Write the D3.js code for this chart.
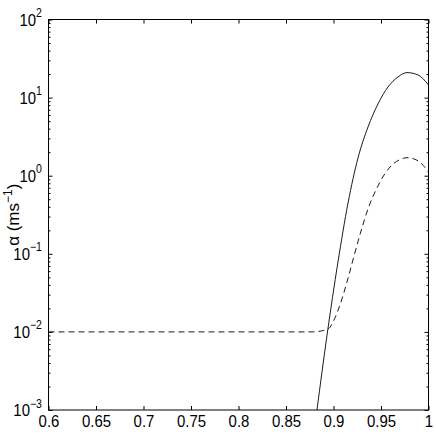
<!DOCTYPE html>
<meta charset="utf-8">
<head>
  <title>alpha</title>
  <script src="https://d3js.org/d3.v7.min.js"></script>
  <style>
    body { margin: 0; background: white; }
    text { font-family: "Liberation Sans", Arial, Helvetica, sans-serif; font-size: 17px; fill: black; }
    .axis path { display: none; }
    .axis line { stroke: black; stroke-width: 1; }
  </style>
</head>
<body>
<script>
  // solid curve
  var xSolid = [0.8826, 0.8932, 0.9047, 0.9153, 0.9258, 0.9363, 0.9468, 0.9574, 0.9679, 0.9774, 0.9890, 1.0];
  var ySolid = [0.001, 0.00912, 0.0785, 0.447, 1.69, 4.20, 8.28, 13.7, 18.4, 20.9, 19.5, 14.5];

  // dashed curve
  var xDash = [0.6, 0.8779, 0.8942, 0.9005, 0.9068, 0.9142, 0.9216, 0.9290, 0.9363, 0.9447, 0.9532, 0.9616, 0.97, 0.9774, 0.9847, 0.9921, 1.0];
  var yDash = [0.01, 0.01, 0.01089, 0.01419, 0.0221, 0.0436, 0.0938, 0.196, 0.375, 0.656, 1.02, 1.37, 1.61, 1.70, 1.64, 1.45, 1.11];

  var xTicks = [0.6, 0.65, 0.7, 0.75, 0.8, 0.85, 0.9, 0.95, 1];
  var yTicks = [1e-3, 1e-2, 1e-1, 1e0, 1e1, 1e2];
  var yExps = ["\u22123", "\u22122", "\u22121", "0", "1", "2"];

  var margin = {top: 19.5, right: 7.5, bottom: 26, left: 48.5};
  var W = 436, H = 436;
  var width = W - margin.left - margin.right;
  var height = H - margin.top - margin.bottom;

  var svg = d3.select("body").append("svg")
    .attr("width", W)
    .attr("height", H);

  var g = svg.append("g")
    .attr("transform", "translate(" + margin.left + "," + margin.top + ")");

  var x = d3.scaleLinear().domain([0.6, 1]).range([0, width]);
  var y = d3.scaleLog().domain([1e-3, 1e2]).range([height, 0]);

  // minor ticks for the log axis
  var yMinor = [];
  yTicks.slice(0, -1).forEach(function(d) {
    for (var k = 2; k <= 9; k++) yMinor.push(d * k);
  });

  var sx = 0.88; // tick labels look a bit narrow

  // x axes (bottom + top)
  var xb = g.append("g").attr("class", "axis")
    .attr("transform", "translate(0," + height + ")")
    .call(d3.axisBottom(x).tickValues(xTicks).tickSize(-4).tickPadding(0)
      .tickFormat(d3.format("")));
  xb.selectAll("text")
    .attr("y", 0).attr("dy", null)
    .attr("transform", "translate(0,16.5) scale(" + sx + ",1)");

  g.append("g").attr("class", "axis")
    .call(d3.axisTop(x).tickValues(xTicks).tickSize(-4).tickFormat(""));

  // y axes (left + right), major and minor
  g.append("g").attr("class", "axis")
    .call(d3.axisLeft(y).tickValues(yTicks).tickSize(-4).tickFormat(""));
  g.append("g").attr("class", "axis")
    .call(d3.axisLeft(y).tickValues(yMinor).tickSize(-2).tickFormat(""));
  g.append("g").attr("class", "axis")
    .attr("transform", "translate(" + width + ",0)")
    .call(d3.axisRight(y).tickValues(yTicks).tickSize(-4).tickFormat(""));
  g.append("g").attr("class", "axis")
    .attr("transform", "translate(" + width + ",0)")
    .call(d3.axisRight(y).tickValues(yMinor).tickSize(-2).tickFormat(""));

  // y tick labels 10^n
  var yl = g.selectAll(".ylab")
    .data(yTicks)
    .enter().append("g")
    .attr("class", "ylab")
    .attr("transform", function(d) { return "translate(-6.5," + y(d) + ") scale(" + sx + ",1)"; });
  var yt = yl.append("text")
    .attr("text-anchor", "end")
    .attr("dy", 6);
  yt.append("tspan").text("10");
  yt.append("tspan")
    .attr("dy", -8.5)
    .style("font-size", "12px")
    .text(function(d, i) { return yExps[i]; });

  // frame
  g.append("rect")
    .attr("width", width)
    .attr("height", height)
    .attr("fill", "none")
    .attr("stroke", "black")
    .attr("stroke-width", 1);

  // y title
  var yTitle = svg.append("text")
    .attr("transform", "translate(19," + (margin.top + height / 2) + ") rotate(-90)")
    .attr("text-anchor", "middle");
  yTitle.append("tspan").text("\u03b1 (ms");
  yTitle.append("tspan").attr("dy", -7).style("font-size", "12px").text("\u22121");
  yTitle.append("tspan").attr("dy", 7).text(")");

  // curves
  g.append("clipPath").attr("id", "clip")
    .append("rect").attr("width", width).attr("height", height);

  var line = d3.line()
    .x(function(d) { return x(d[0]); })
    .y(function(d) { return y(d[1]); })
    .curve(d3.curveMonotoneX);

  g.append("path")
    .datum(d3.zip(xSolid, ySolid))
    .attr("clip-path", "url(#clip)")
    .attr("fill", "none")
    .attr("stroke", "black")
    .attr("stroke-width", 0.9)
    .attr("d", line);

  g.append("path")
    .datum(d3.zip(xDash, yDash))
    .attr("clip-path", "url(#clip)")
    .attr("fill", "none")
    .attr("stroke", "black")
    .attr("stroke-width", 0.9)
    .attr("stroke-dasharray", "6,4")
    .attr("d", line);
</script>
</body>
</html>
